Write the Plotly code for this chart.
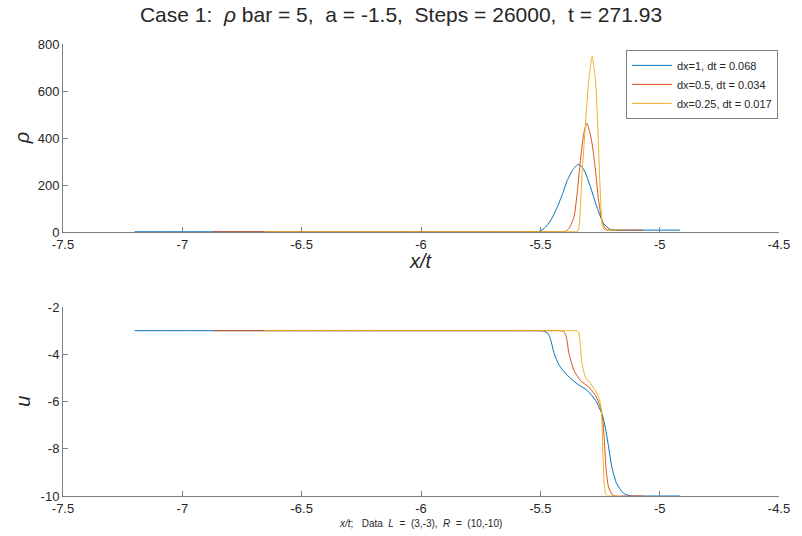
import plotly.graph_objects as go

# ---------------- data ----------------
series_names = ["dx=1, dt = 0.068", "dx=0.5, dt = 0.034", "dx=0.25, dt = 0.017"]
series_colors = ["#0072BD", "#D95319", "#EDB120"]

# density rho vs x/t
rho_x_dx1 = [-7.20, -6.6, -6.0, -5.58, -5.53, -5.505, -5.484, -5.456, -5.429, -5.405, -5.387,
             -5.36, -5.339, -5.315, -5.290, -5.263, -5.235, -5.207, -5.18, -5.15, -5.05, -4.915]
rho_dx1 = [3, 3, 3, 3, 3, 5, 17, 52, 108, 170, 221,
           272, 290, 262, 193, 108, 38, 13, 10, 10, 10, 10]

rho_x_dx05 = [-6.87, -6.3, -5.8, -5.46, -5.42, -5.395, -5.38, -5.359, -5.346, -5.332, -5.318,
              -5.305, -5.294, -5.283, -5.269, -5.256, -5.242, -5.228, -5.21, -5.18, -5.12, -5.07]
rho_dx05 = [3, 3, 3, 3, 3, 5, 17, 66, 165, 306, 420,
            464, 430, 377, 264, 137, 52, 17, 10, 10, 10, 10]

rho_x_dx025 = [-6.656, -6.1, -5.7, -5.38, -5.35, -5.343, -5.337, -5.332, -5.325, -5.311,
               -5.297, -5.283, -5.269, -5.26, -5.252, -5.246, -5.240, -5.232, -5.22, -5.2, -5.18]
rho_dx025 = [3, 3, 3, 3, 3, 5, 30, 108, 250, 462,
             645, 747, 645, 462, 250, 108, 28, 12, 10, 10, 10]

# velocity u vs x/t
u_x_dx1 = [-7.20, -6.6, -6.0, -5.56, -5.51, -5.485, -5.468, -5.456, -5.442, -5.421, -5.387,
           -5.346, -5.304, -5.269, -5.242, -5.228, -5.214, -5.20, -5.18, -5.152, -5.124,
           -5.10, -5.0, -4.915]
u_dx1 = [-3, -3, -3, -3, -3, -3.02, -3.12, -3.41, -3.97, -4.47, -4.89,
         -5.25, -5.53, -5.95, -6.52, -7.08, -7.93, -8.78, -9.48, -9.88, -9.99,
         -10, -10, -10]

u_x_dx05 = [-6.87, -6.3, -5.8, -5.45, -5.42, -5.402, -5.391, -5.38, -5.359, -5.332, -5.297,
            -5.269, -5.248, -5.238, -5.231, -5.224, -5.214, -5.200, -5.185, -5.15, -5.07]
u_dx05 = [-3, -3, -3, -3, -3, -3.03, -3.27, -3.97, -4.68, -5.11, -5.39,
          -5.74, -6.24, -6.80, -7.79, -8.92, -9.63, -9.93, -10, -10, -10]

u_x_dx025 = [-6.656, -6.1, -5.7, -5.38, -5.352, -5.340, -5.332, -5.325, -5.311, -5.283,
             -5.262, -5.248, -5.242, -5.238, -5.232, -5.226, -5.218, -5.2, -5.18]
u_dx025 = [-3, -3, -3, -3, -3, -3.05, -3.69, -4.40, -4.97, -5.32,
           -5.67, -6.09, -6.80, -8.21, -9.48, -9.92, -10, -10, -10]

x_tickvals = [-7.5, -7, -6.5, -6, -5.5, -5, -4.5]
x_ticktext = ["-7.5", "-7", "-6.5", "-6", "-5.5", "-5", "-4.5"]
rho_tickvals = [0, 200, 400, 600, 800]
rho_ticktext = ["0", "200", "400", "600", "800"]
u_tickvals = [-10, -8, -6, -4, -2]
u_ticktext = ["-10", "-8", "-6", "-4", "-2"]

# ---------------- figure ----------------
FONT = "Liberation Sans, Arial, Helvetica, sans-serif"
TXT = "#262626"
fig = go.Figure()

rho_sets = [(rho_x_dx1, rho_dx1), (rho_x_dx05, rho_dx05), (rho_x_dx025, rho_dx025)]
u_sets = [(u_x_dx1, u_dx1), (u_x_dx05, u_dx05), (u_x_dx025, u_dx025)]

for (xs, ys), name, col in zip(rho_sets, series_names, series_colors):
    fig.add_trace(go.Scatter(x=xs, y=ys, mode="lines", name=name,
                             line=dict(color=col, width=1, shape="spline", smoothing=0.6),
                             xaxis="x", yaxis="y"))
for (xs, ys), name, col in zip(u_sets, series_names, series_colors):
    fig.add_trace(go.Scatter(x=xs, y=ys, mode="lines", name=name, showlegend=False,
                             line=dict(color=col, width=1, shape="spline", smoothing=0.6),
                             xaxis="x2", yaxis="y2"))

axis_common = dict(showline=True, linecolor="#808080", linewidth=1, ticks="inside",
                   ticklen=5, tickcolor="#808080", showgrid=False, zeroline=False,
                   tickfont=dict(family=FONT, size=13, color=TXT))

fig.update_layout(
    width=802, height=536,
    margin=dict(l=63, r=15, t=44, b=40),
    paper_bgcolor="white", plot_bgcolor="white",
    title=dict(text="Case 1:  <i>ρ</i> bar = 5,  a = -1.5,  Steps = 26000,  t = 271.93",
               x=0.5, xref="container", xanchor="center", y=1 - 15 / 536, yanchor="middle",
               font=dict(family=FONT, size=21, color=TXT)),
    xaxis=dict(domain=[0, 1], range=[-7.5, -4.5], tickvals=x_tickvals, ticktext=x_ticktext,
               anchor="y", **axis_common),
    yaxis=dict(domain=[0.583, 1], range=[0, 800], tickvals=rho_tickvals, ticktext=rho_ticktext,
               anchor="x", **axis_common),
    xaxis2=dict(domain=[0, 1], range=[-7.5, -4.5], tickvals=x_tickvals, ticktext=x_ticktext,
                anchor="y2", **axis_common),
    yaxis2=dict(domain=[0, 0.418], range=[-10, -2], tickvals=u_tickvals, ticktext=u_ticktext,
                anchor="x2", **axis_common),
    legend=dict(x=0.9985, y=0.987, xanchor="right", yanchor="top",
                bgcolor="white", bordercolor="#808080", borderwidth=1,
                font=dict(family=FONT, size=11, color=TXT),
                tracegroupgap=0, itemwidth=40),
    showlegend=True,
)

fig.add_annotation(text="<i>ρ</i>", xref="paper", yref="paper", x=-0.057, y=0.792,
                   xanchor="center", yanchor="middle", showarrow=False, textangle=-90,
                   font=dict(family=FONT, size=20, color=TXT))
fig.add_annotation(text="<i>u</i>", xref="paper", yref="paper", x=-0.057, y=0.209,
                   xanchor="center", yanchor="middle", showarrow=False, textangle=-90,
                   font=dict(family=FONT, size=20, color=TXT))
fig.add_annotation(text="<i>x/t</i>", xref="paper", yref="paper", x=0.4995, y=0.519,
                   xanchor="center", yanchor="middle", showarrow=False,
                   font=dict(family=FONT, size=20, color=TXT))
fig.add_annotation(text="<i>x/t</i>;   Data  <i>L</i>  =  (3,-3),  <i>R</i>  =  (10,-10)",
                   xref="paper", yref="paper", x=0.4995, y=-0.061,
                   xanchor="center", yanchor="middle", showarrow=False,
                   font=dict(family=FONT, size=10, color=TXT))

fig.write_html("out.html")
